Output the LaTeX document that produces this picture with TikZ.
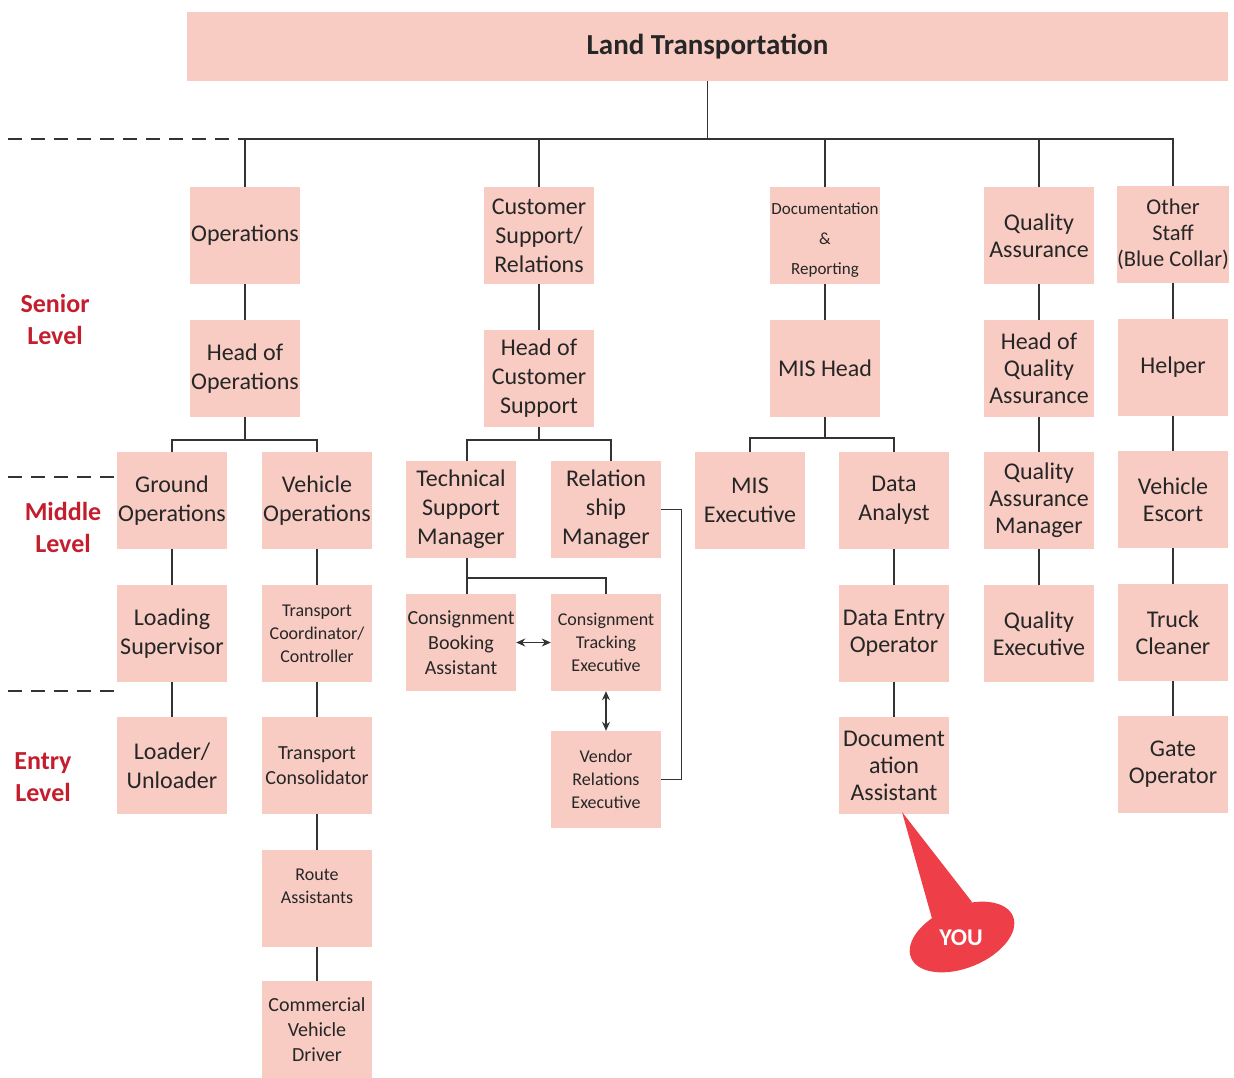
\documentclass[tikz,border=0pt]{standalone}
\usepackage{fontspec}
\setmainfont{Carlito}
\usetikzlibrary{arrows.meta}
\definecolor{boxfill}{HTML}{F8CCC3}
\definecolor{txt}{HTML}{262626}
\definecolor{lvl}{HTML}{C41E2E}
\definecolor{youred}{HTML}{EE3E47}
\definecolor{ln}{HTML}{333333}
\newcommand{\fs}[2]{\fontsize{#1}{#2}\selectfont}
\tikzset{
  bx/.style={fill=boxfill, text=txt, minimum width=110, minimum height=97, inner sep=0pt, align=center, font=\fs{24}{29}},
  lk/.style={draw=ln, line width=1.3pt},
  dsh/.style={draw=ln, line width=1.6pt, dash pattern=on 14pt off 9pt},
  lvlab/.style={text=lvl, align=center, font=\bfseries\fs{26}{32}},
  dbl/.style={lk, {Stealth[length=9pt,width=8pt]}-{Stealth[length=9pt,width=8pt]}}
}
\begin{document}
\begin{tikzpicture}[x=1pt,y=-1pt]
\useasboundingbox (0,0) rectangle (1234,1078);
% title
\node[fill=boxfill, text=txt, minimum width=1041, minimum height=69, inner sep=0pt, font=\bfseries\fs{29}{32}] (title) at (707.5,46.5) {Land Transportation};
% row 1
\node[bx] (ops) at (245,235.5) {Operations};
\node[bx] (csr) at (539,235.5) {Customer\\Support/\\Relations};
\node[bx, font=\fs{17}{30}] (doc) at (825,235.5) {\raisebox{-3pt}[\height][\depth]{\begin{tabular}{@{}c@{}}Documentation\\\&\\Reporting\end{tabular}}};
\node[bx, font=\fs{24}{27}] (qa) at (1039,235.5) {Quality\\Assurance};
\node[bx, font=\fs{22.5}{26}] (oth) at (1173,234.5) {Other\\Staff\\(Blue Collar)};
% row 2
\node[bx] (hops) at (245,368.5) {Head of\\Operations};
\node[bx] (hcs) at (539,378.5) {Head of\\Customer\\Support};
\node[bx] (mis) at (825,368.5) {MIS Head};
\node[bx, font=\fs{24}{27}] (hqa) at (1039,368.5) {Head of\\Quality\\Assurance};
\node[bx] (help) at (1173,367.5) {Helper};
% row 3
\node[bx] (gro) at (172,500.5) {Ground\\Operations};
\node[bx] (veh) at (317,500.5) {Vehicle\\Operations};
\node[bx] (tsm) at (461,509.5) {Technical\\Support\\Manager};
\node[bx] (rel) at (606,509.5) {Relation\\ship\\Manager};
\node[bx] (mise) at (750,500.5) {MIS\\Executive};
\node[bx] (da) at (894,500.5) {Data\\Analyst};
\node[bx, font=\fs{24}{27}] (qam) at (1039,500.5) {Quality\\Assurance\\Manager};
\node[bx, font=\fs{24}{27}] (ve) at (1173,499.5) {Vehicle\\Escort};
% row 4
\node[bx] (ls) at (172,633.5) {Loading\\Supervisor};
\node[bx, font=\fs{18}{23}] (tcc) at (317,633.5) {Transport\\Coordinator/\\Controller};
\node[bx, font=\fs{20}{25}] (cba) at (461,642.5) {Consignment\\Booking\\Assistant};
\node[bx, font=\fs{18}{23}] (cte) at (606,642.5) {Consignment\\Tracking\\Executive};
\node[bx, font=\fs{24}{27}] (deo) at (894,633.5) {Data Entry\\Operator};
\node[bx, font=\fs{24}{27}] (qe) at (1039,633.5) {Quality\\Executive};
\node[bx, font=\fs{24}{27}] (tc) at (1173,632.5) {Truck\\Cleaner};
% row 5
\node[bx] (lu) at (172,765.5) {Loader/\\Unloader};
\node[bx, font=\fs{20}{25}] (tcon) at (317,765.5) {Transport\\Consolidator};
\node[bx, font=\fs{18}{23}] (vre) at (606,779.5) {Vendor\\Relations\\Executive};
\node[bx, font=\fs{24}{27}] (doca) at (894,765.5) {Document\\ation\\Assistant};
\node[bx, font=\fs{24}{27}] (go) at (1173,764.5) {Gate\\Operator};
% row 6
\node[bx, font=\fs{18}{23}] (ra) at (317,898.5) {Route\\Assistants\\[1pt]};
\node[bx, font=\fs{20}{25}] (cvd) at (317,1029.5) {Commercial\\Vehicle\\Driver};
% level labels
\node[lvlab] (sen) at (55,319) {Senior\\Level};
\node[lvlab] (mid) at (63,527) {Middle\\Level};
\node[lvlab] (ent) at (43,777) {Entry\\Level};
% coordinates
\coordinate (bus) at (0,139);
\coordinate (b1) at (0,440);
\coordinate (b2) at (0,438);
\coordinate (b3) at (0,578);
% main bus
\draw[lk] (title.south) -- (title.south |- bus);
\draw[lk] (ops.north) -- (ops.north |- bus) -- (oth.north |- bus) -- (oth.north);
\draw[lk] (csr.north) -- (csr.north |- bus);
\draw[lk] (doc.north) -- (doc.north |- bus);
\draw[lk] (qa.north) -- (qa.north |- bus);
% dashed level separators
\coordinate (d1) at (8,139);
\coordinate (d2) at (8,477);
\coordinate (d3) at (8,691);
\coordinate (d3e) at (117,691);
\draw[dsh] (d1) -- (ops.north |- bus);
\draw[dsh] (d2) -- (gro.west |- d2);
\draw[dsh] (d3) -- (d3e);
% vertical links
\foreach \a/\b in {ops/hops,csr/hcs,doc/mis,qa/hqa,oth/help,hqa/qam,qam/qe,help/ve,ve/tc,tc/go,gro/ls,ls/lu,veh/tcc,tcc/tcon,tcon/ra,ra/cvd,da/deo,deo/doca}
  \draw[lk] (\a.south) -- (\b.north);
% branches
\draw[lk] (hops.south) -- (hops.south |- b1);
\draw[lk] (gro.north) -- (gro.north |- b1) -- (veh.north |- b1) -- (veh.north);
\draw[lk] (hcs.south) -- (hcs.south |- b1);
\draw[lk] ([xshift=6pt]tsm.north) -- ([xshift=6pt]tsm.north |- b1) -- ([xshift=5pt]rel.north |- b1) -- ([xshift=5pt]rel.north);
\draw[lk] (mis.south) -- (mis.south |- b2);
\draw[lk] (mise.north) -- (mise.north |- b2) -- (da.north |- b2) -- (da.north);
\draw[lk] ([xshift=6pt]tsm.south) -- ([xshift=6pt]tsm.south |- b3) -- (cte.north |- b3) -- (cte.north);
\draw[lk] ([xshift=6pt]cba.north) -- ([xshift=6pt]cba.north |- b3);
\draw[dbl] (cba.east) -- (cte.west);
\draw[dbl] (cte.south) -- (vre.north);
\draw[lk] (rel.east) -- ++(20,0) |- (vre.east);
% YOU callout
\fill[youred] (902,812) -- (972,902) -- (933,922) -- cycle;
\fill[youred, rotate around={22:(962,937)}] (962,937) ellipse [x radius=55, y radius=31];
\node[text=white, font=\bfseries\fs{24}{28}] (you) at (961,938) {YOU};
\end{tikzpicture}
\end{document}
